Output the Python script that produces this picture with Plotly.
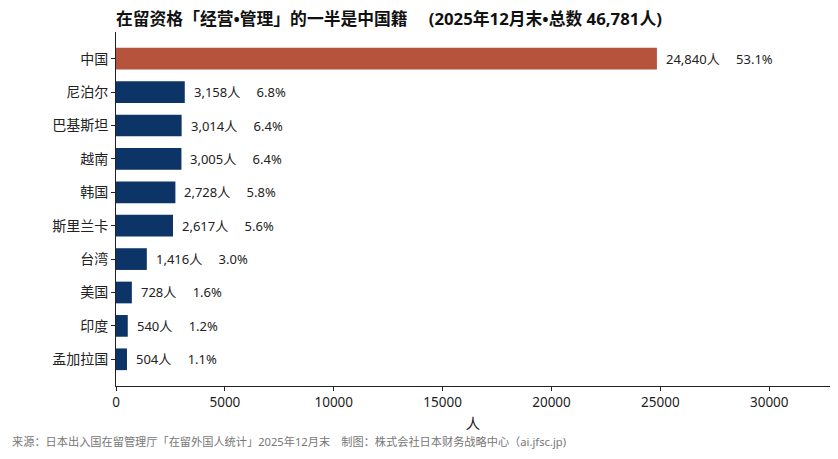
import plotly.graph_objects as go

countries = ["中国", "尼泊尔", "巴基斯坦", "越南", "韩国", "斯里兰卡", "台湾", "美国", "印度", "孟加拉国"]
values = [24840, 3158, 3014, 3005, 2728, 2617, 1416, 728, 540, 504]
pcts = [53.1, 6.8, 6.4, 6.4, 5.8, 5.6, 3.0, 1.6, 1.2, 1.1]
x_ticks = [0, 5000, 10000, 15000, 20000, 25000, 30000]

title_text = "在留资格「经营•管理」的一半是中国籍　 (2025年12月末•总数 46,781人)"
source_text = "来源：日本出入国在留管理厅「在留外国人统计」2025年12月末　制图：株式会社日本财务战略中心（ai.jfsc.jp)"

FONT = "Noto Sans, Noto Sans CJK SC"
colors = ["#B5533C"] + ["#0D3466"] * (len(countries) - 1)

# page body has an 8px margin; figure coordinates are offset by it
OFF = 8
W, H = 838 - 2 * OFF, 459 - 2 * OFF
L, R, T = 116 - OFF, 0, 32 - OFF
B = H - (386 - OFF)
plot_w = W - L - R
plot_h = H - T - B

fig = go.Figure()
fig.add_trace(go.Bar(
    x=values, y=countries, orientation="h",
    marker=dict(color=colors, line=dict(width=0)),
    width=0.65, hoverinfo="x+y",
))

for c, v, p in zip(countries, values, pcts):
    fig.add_annotation(
        x=v, y=c, xref="x", yref="y",
        text=f"{v:,}人　 {p:.1f}%",
        showarrow=False, xanchor="left", yanchor="middle", xshift=7,
        font=dict(family=FONT, size=13, color="#222222"),
    )

fig.add_annotation(
    x=(10 - OFF - L) / plot_w, y=(H - B - (441 - OFF)) / plot_h, xref="paper", yref="paper",
    text=source_text, showarrow=False, xanchor="left", yanchor="middle",
    font=dict(family=FONT, size=11.2, color="#777777"),
)

fig.update_layout(
    width=W, height=H,
    margin=dict(l=L, r=R, t=T, b=B, autoexpand=False),
    paper_bgcolor="white", plot_bgcolor="white",
    showlegend=False,
    title=dict(text=f"<b>{title_text}</b>", x=L / W, xanchor="left",
               y=1 - (19.5 - OFF) / H, yanchor="middle",
               font=dict(family=FONT, size=16.8, color="#111111")),
    font=dict(family=FONT, size=13, color="#222222"),
)

fig.update_xaxes(
    range=[0, 24840 * 1.32], tickvals=x_ticks, ticktext=[str(t) for t in x_ticks],
    showline=True, linecolor="#222222", linewidth=1,
    ticks="outside", ticklen=4, tickcolor="#222222",
    showgrid=False, zeroline=False, automargin=False,
    title=dict(text="人", font=dict(family=FONT, size=14.5, color="#222222"), standoff=8),
    tickfont=dict(family=FONT, size=13.5, color="#222222"),
)
fig.update_yaxes(
    range=[9.8, -0.8], type="category",
    showline=True, linecolor="#222222", linewidth=1,
    ticks="outside", ticklen=4, tickcolor="#222222",
    showgrid=False, zeroline=False, automargin=False,
    tickfont=dict(family=FONT, size=14, color="#222222"),
)

fig.write_html("out.html")
